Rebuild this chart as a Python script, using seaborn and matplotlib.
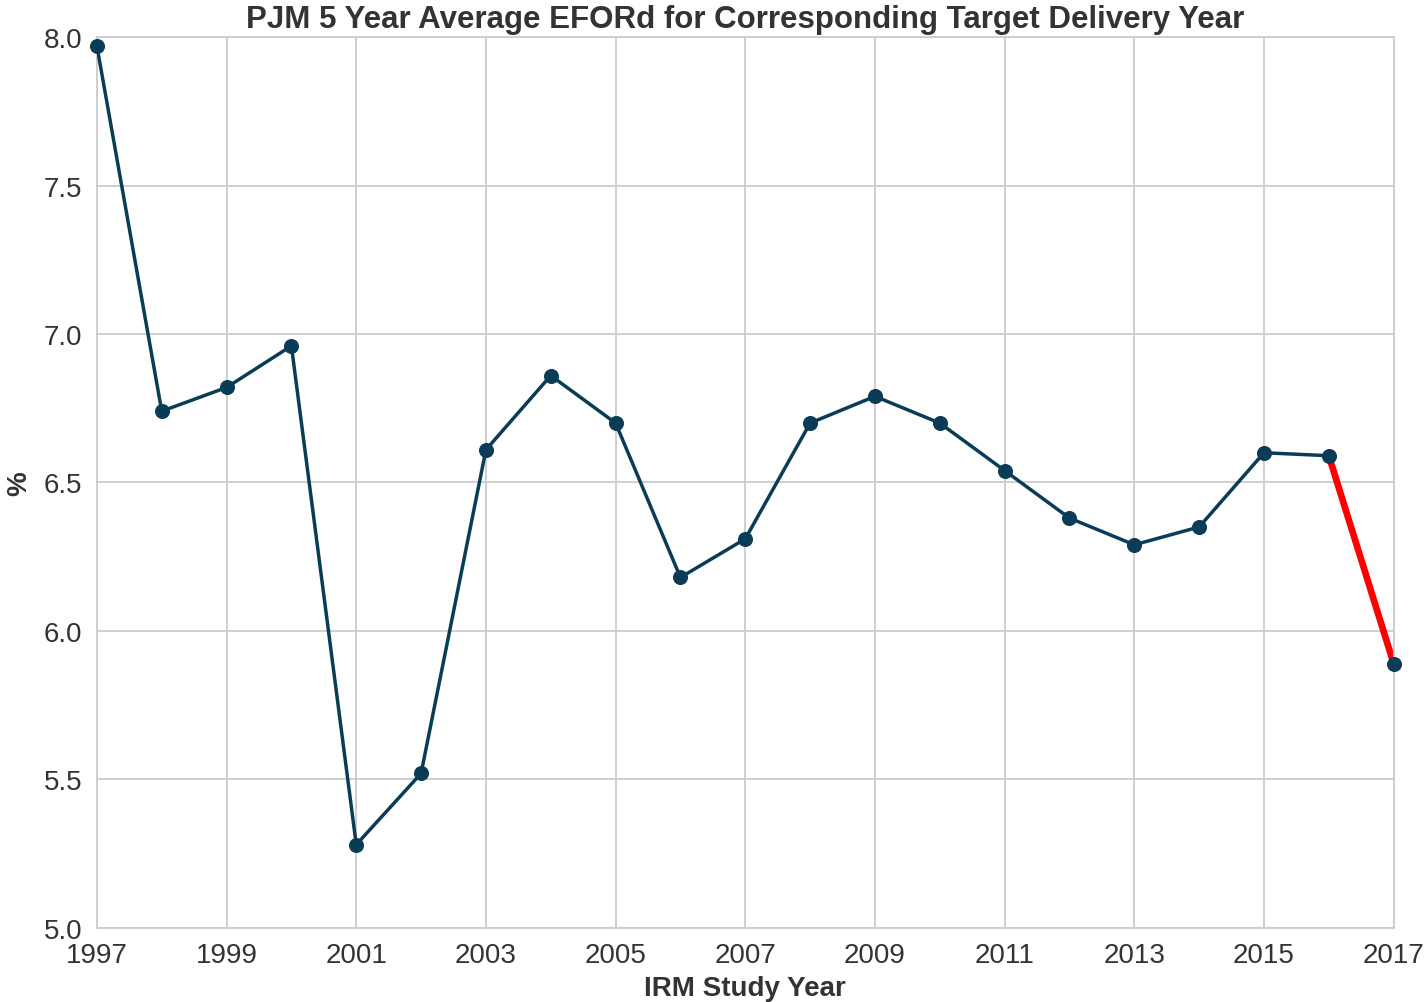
import matplotlib
matplotlib.use("Agg")
import matplotlib.pyplot as plt
import seaborn as sns
import pandas as pd

# IRM study years and 5 year average EFORd (%)
years = [1997, 1998, 1999, 2000, 2001, 2002, 2003, 2004, 2005, 2006, 2007,
         2008, 2009, 2010, 2011, 2012, 2013, 2014, 2015, 2016, 2017]
eford = [7.97, 6.74, 6.82, 6.96, 5.28, 5.52, 6.61, 6.86, 6.70, 6.18, 6.31,
         6.70, 6.79, 6.70, 6.54, 6.38, 6.29, 6.35, 6.60, 6.59, 5.89]
x_ticks = [1997, 1999, 2001, 2003, 2005, 2007, 2009, 2011, 2013, 2015, 2017]
y_ticks = [5.0, 5.5, 6.0, 6.5, 7.0, 7.5, 8.0]

sns.set_style("whitegrid", {"grid.color": ".8", "axes.edgecolor": ".8"})
plt.rcParams['font.family'] = ['Liberation Sans', 'DejaVu Sans']

df = pd.DataFrame({"year": years, "eford": eford})
navy = "#0b3c57"

fig, ax = plt.subplots(figsize=(14.25, 10.03), dpi=100)
fig.subplots_adjust(left=0.068, right=0.978, top=0.962, bottom=0.074)

# last segment highlighted in red
sns.lineplot(data=df.iloc[-2:], x="year", y="eford", color="red", linewidth=4.8, ax=ax, zorder=2)
sns.lineplot(data=df.iloc[:-1], x="year", y="eford", color=navy, linewidth=2.5, ax=ax, zorder=3)
sns.scatterplot(data=df, x="year", y="eford", color=navy, s=100, edgecolor=navy, ax=ax, zorder=4, clip_on=False)

ax.set_xlim(1997, 2017)
ax.set_ylim(5.0, 8.0)
ax.set_xticks(x_ticks)
ax.set_yticks(y_ticks)
ax.set_yticklabels([f"{v:.1f}" for v in y_ticks])
ax.tick_params(labelsize=20, colors="#333333", pad=7)
ax.grid(True, color=".8", linewidth=1.3)
for s in ax.spines.values():
    s.set_color(".8")
    s.set_linewidth(1.3)

ax.set_title("PJM 5 Year Average EFORd for Corresponding Target Delivery Year",
             fontsize=22.5, fontweight="bold", color="#333333", pad=7)
ax.set_xlabel("IRM Study Year", fontsize=20, fontweight="bold", color="#333333", labelpad=5)
ax.set_ylabel("%", fontsize=20, fontweight="bold", color="#333333", labelpad=8)

plt.savefig("out.png", dpi=100)
